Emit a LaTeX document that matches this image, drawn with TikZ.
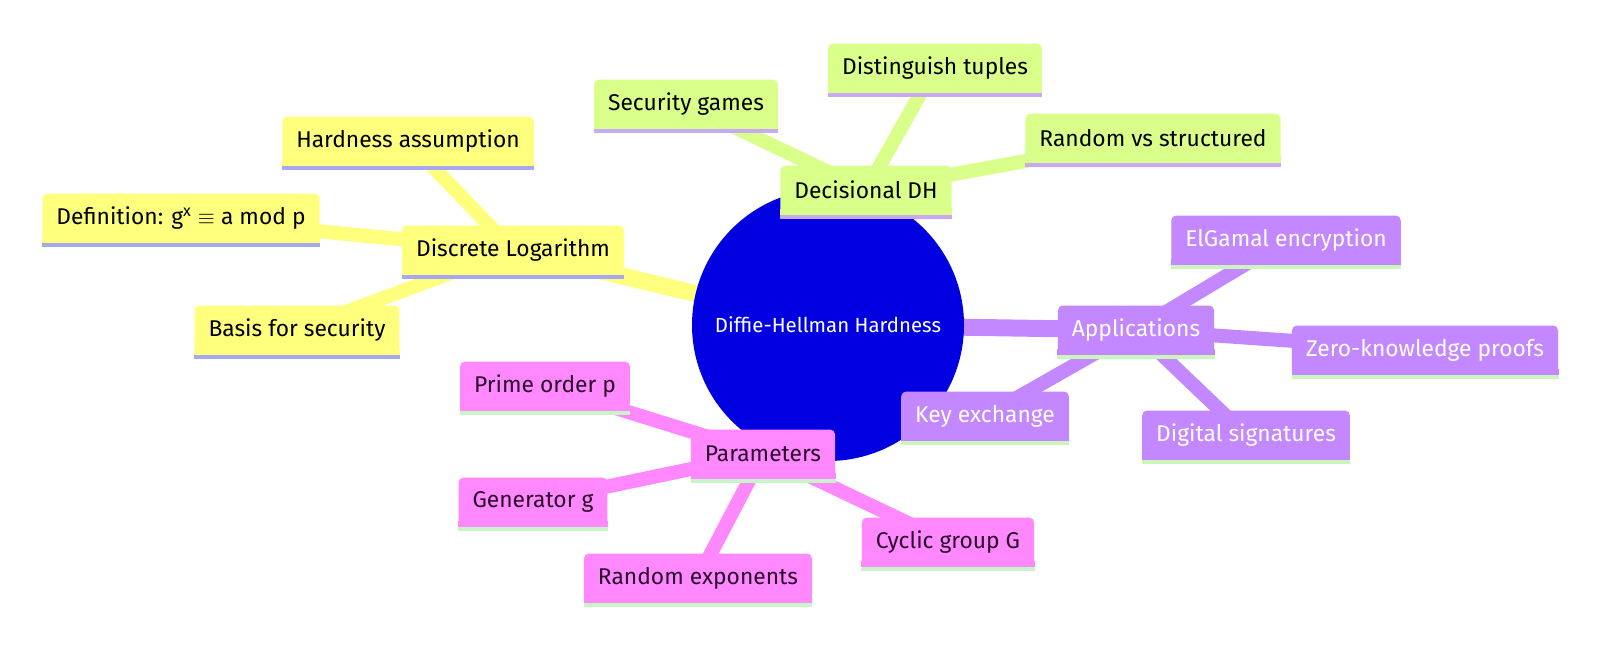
\documentclass[tikz,border=0pt]{standalone}
\usepackage{fontspec}
\setmainfont{Fira Sans}
\usepackage{tikz}
\usetikzlibrary{backgrounds}
\definecolor{rootblue}{HTML}{0000E0}
\definecolor{dlyellow}{HTML}{FFFF7E}
\definecolor{dlline}{HTML}{A8A8F2}
\definecolor{ddhgreen}{HTML}{D9FF8A}
\definecolor{ddhline}{HTML}{C9A9F5}
\definecolor{apppurple}{HTML}{C387FF}
\definecolor{appline}{HTML}{CCF5BC}
\definecolor{parpink}{HTML}{FF88FF}
\definecolor{parline}{HTML}{C8F5C8}
\definecolor{partext}{HTML}{2A0A2A}
\tikzset{
every picture/.style={line cap=round,line join=round},
mind box/.style={
  rounded corners=2.5pt,
  inner xsep=7pt,
  minimum height=24.5pt,
  font=\fontsize{11.4}{13}\selectfont
},
root node/.style={circle, fill=rootblue, text=white, minimum size=136pt, inner sep=0pt,
  font=\fontsize{10.2}{12}\selectfont},
dl box/.style={mind box, fill=dlyellow, text=black},
ddh box/.style={mind box, fill=ddhgreen, text=black},
app box/.style={mind box, fill=apppurple, text=white},
par box/.style={mind box, fill=parpink, text=partext},
root edge/.style={line width=8.5pt, line cap=butt},
leaf edge/.style={line width=7pt, line cap=butt}
}

\begin{document}
\begin{tikzpicture}[x=0.5pt,y=-0.5pt]
\useasboundingbox (0,0) rectangle (1600,650);
\node[root node] (root) at (828,325) {Diffie-Hellman Hardness};
% discrete log
\node[dl box] (dlog) at (513,250) {Discrete Logarithm};
\node[dl box] (hard) at (408,141) {Hardness assumption};
\node[dl box] (defn) at (181,218) {Definition: g\textsuperscript{x} $\equiv$ a mod p};
\node[dl box] (basis) at (297,330) {Basis for security};
% decisional
\node[ddh box] (ddh) at (866,190) {Decisional DH};
\node[ddh box] (games) at (686,104) {Security games};
\node[ddh box] (tuples) at (935,68) {Distinguish tuples};
\node[ddh box] (randvs) at (1153,138) {Random vs structured};
% applications
\node[app box] (apps) at (1136,330) {Applications};
\node[app box] (elgamal) at (1286,240) {ElGamal encryption};
\node[app box] (zkp) at (1425,350) {Zero-knowledge proofs};
\node[app box] (keyex) at (985,416) {Key exchange};
\node[app box] (sigs) at (1246,435) {Digital signatures};
% parameters
\node[par box] (params) at (763,454) {Parameters};
\node[par box] (prime) at (545,386) {Prime order p};
\node[par box] (gen) at (533,502) {Generator g};
\node[par box] (rexp) at (698,578) {Random exponents};
\node[par box] (cyclic) at (948,542) {Cyclic group G};

% square bottoms and underlines
\foreach \n/\fc/\lc in {dlog/dlyellow/dlline,hard/dlyellow/dlline,defn/dlyellow/dlline,basis/dlyellow/dlline,
  ddh/ddhgreen/ddhline,games/ddhgreen/ddhline,tuples/ddhgreen/ddhline,randvs/ddhgreen/ddhline,
  apps/apppurple/appline,elgamal/apppurple/appline,zkp/apppurple/appline,keyex/apppurple/appline,sigs/apppurple/appline,
  params/parpink/parline,prime/parpink/parline,gen/parpink/parline,rexp/parpink/parline,cyclic/parpink/parline} {
\fill[\fc] ([yshift=3pt]\n.south west) rectangle (\n.south east);
\fill[\lc] (\n.south west) rectangle ([yshift=-2pt]\n.south east);
}

\begin{pgfonlayer}{background}
\foreach \a/\b/\c in {root/dlog/dlyellow,root/ddh/ddhgreen,root/apps/apppurple,root/params/parpink} {
\draw[root edge,\c] (\a.center) -- (\b.center);
}
\foreach \a/\b/\c in {dlog/hard/dlyellow,dlog/defn/dlyellow,dlog/basis/dlyellow,
  ddh/games/ddhgreen,ddh/tuples/ddhgreen,ddh/randvs/ddhgreen,
  apps/elgamal/apppurple,apps/zkp/apppurple,apps/keyex/apppurple,apps/sigs/apppurple,
  params/prime/parpink,params/gen/parpink,params/rexp/parpink,params/cyclic/parpink} {
\draw[leaf edge,\c] (\a.center) -- (\b.center);
}
\end{pgfonlayer}
\end{tikzpicture}
\end{document}
